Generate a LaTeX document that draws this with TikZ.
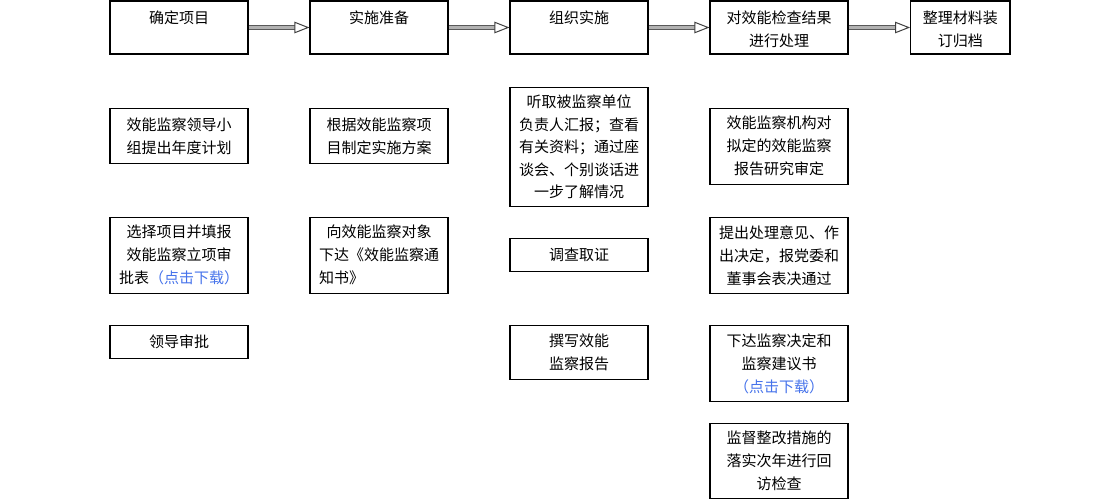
\documentclass[tikz,border=0pt]{standalone}
\usepackage{fontspec}
\setmainfont{Noto Sans CJK SC}
\usetikzlibrary{arrows.meta}
\definecolor{linkblue}{RGB}{70,115,235}
\begin{document}
\begin{tikzpicture}[x=1pt,y=-1pt,
  box/.style={draw=black, line width=1.1pt, fill=white, align=center,
    inner xsep=2pt, inner ysep=2pt, minimum width=138pt,
    font=\fontsize{15pt}{23pt}\selectfont},
  topbox/.style={box, inner ysep=0pt, text height=22.4pt, text depth=30.6pt,
    minimum height=53pt},
  topboxtwo/.style={box, inner ysep=0pt, text height=45.4pt, text depth=7.6pt,
    minimum height=53pt},
  flow/.style={draw=gray!60, line width=3pt,
    -{Triangle[length=15pt, width=11.5pt, line width=1pt, color=black!75, fill=white]},
    preaction={draw=black!65, line width=5pt, shorten >=14pt, -}},
  link/.style={text=linkblue}]
\useasboundingbox (0,0) rectangle (1120,499);

% top row
\node[topbox] (t1) at (179,27.5) {确定项目};
\node[topbox] (t2) at (379,27.5) {实施准备};
\node[topbox] (t3) at (579,27.5) {组织实施};
\node[topboxtwo] (t4) at (779,27.5) {对效能检查结果\\进行处理};
\node[topboxtwo, minimum width=99.3pt] (t5) at (960.3,27.5) {整理材料装\\订归档};

\draw[flow] (t1.east) -- (t2.west);
\draw[flow] (t2.east) -- (t3.west);
\draw[flow] (t3.east) -- (t4.west);
\draw[flow] (t4.east) -- (t5.west);

% column 1
\node[box, minimum height=55pt] (a1) at (179,135.8) {效能监察领导小\\组提出年度计划};
\node[box, minimum height=76pt] (a2) at (179,255.3) {选择项目并填报\\效能监察立项审\\批表{\color{linkblue}（点击下载）}};
\node[box, minimum height=32.6pt] (a3) at (179,342) {领导审批};

% column 2
\node[box, minimum height=55pt] (b1) at (379,135.8) {根据效能监察项\\目制定实施方案};
\node[box, minimum height=76pt] (b2) at (379,255.3) {向效能监察对象\\下达《效能监察通\\\makebox[120pt][l]{知书》}};

% column 3
\node[box, minimum height=119.4pt, font=\fontsize{15pt}{22.6pt}\selectfont] (c1) at (579,147) {听取被监察单位\\负责人汇报；查看\\有关资料；通过座\\谈会、个别谈话进\\一步了解情况};
\node[box, minimum height=33.4pt] (c2) at (579,255) {调查取证};
\node[box, minimum height=53.6pt] (c3) at (579,352.5) {撰写效能\\监察报告};

% column 4
\node[box, minimum height=76pt] (d1) at (779,146.3) {效能监察机构对\\拟定的效能监察\\报告研究审定};
\node[box, minimum height=76pt] (d2) at (779,255.3) {提出处理意见、作\\出决定，报党委和\\董事会表决通过};
\node[box, minimum height=75.6pt] (d3) at (779,363.5) {下达监察决定和\\监察建议书\\{\color{linkblue}（点击下载）}};
\node[box, minimum height=75pt] (d4) at (779,460.8) {监督整改措施的\\落实次年进行回\\访检查};
\end{tikzpicture}
\end{document}
